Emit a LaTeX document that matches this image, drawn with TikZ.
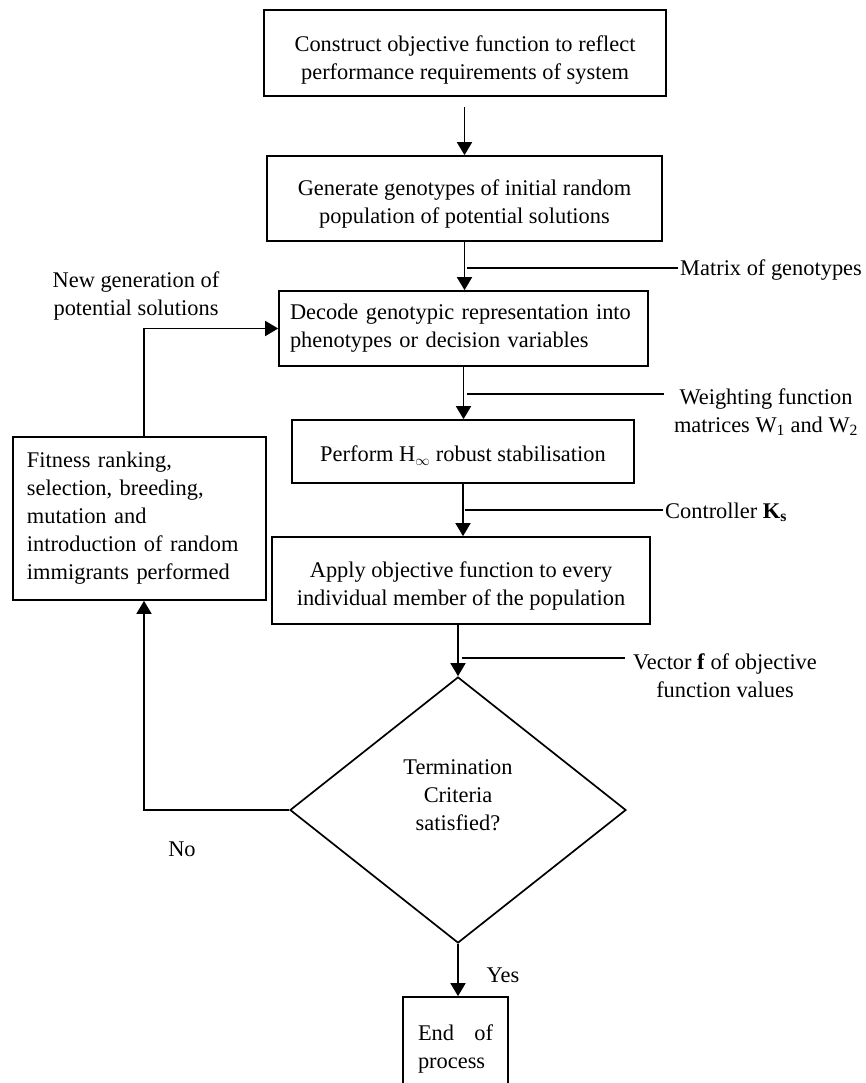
\documentclass[tikz,border=0pt]{standalone}
\usepackage{fontspec}
\setmainfont{Liberation Serif}
\usetikzlibrary{arrows.meta,shapes.geometric}
\begin{document}
\begin{tikzpicture}[x=1pt,y=-1pt,
  every node/.style={font=\fontsize{22.4}{28}\selectfont},
  box/.style={draw,line width=1.7pt,inner sep=0pt,align=center},
  lbl/.style={inner sep=2pt,align=center},
  arr/.style={line width=1.8pt,-{Triangle[length=13pt,width=15pt]}},
  ln/.style={line width=1.6pt}]
\useasboundingbox (0,0) rectangle (866,1083);
\fill[white] (0,0) rectangle (866,1083);
\clip (0,0) rectangle (866,1083);

% boxes
\node[box,minimum width=402pt,minimum height=86pt] (b1) at (465,53)
  {\rule{0pt}{29pt}Construct objective function to reflect\\performance requirements of system};
\node[box,minimum width=395pt,minimum height=85pt] (b2) at (464.5,198.5)
  {\rule{0pt}{27pt}Generate genotypes of initial random\\population of potential solutions};
\node[box,align=left,text width=347pt,inner xsep=11pt,minimum height=75pt] (b3) at (463.5,328.5)
  {Decode genotypic representation into\\phenotypes or decision variables};
\node[box,minimum width=342pt,minimum height=63pt] (b4) at (463,451.5)
  {\rule{0pt}{24pt}Perform H\textsubscript{$\infty$} robust stabilisation};
\node[box,minimum width=378pt,minimum height=87pt] (b5) at (461,580.5)
  {\rule{0pt}{27pt}Apply objective function to every\\individual member of the population};
\node[box,align=left,text width=225pt,inner xsep=14pt,minimum height=163pt] (fit) at (139.5,518.5)
  {Fitness ranking,\\selection, breeding,\\mutation and\\introduction of random\\immigrants performed};
\node[diamond,draw,line width=1.7pt,minimum width=336pt,minimum height=266pt,inner sep=0pt] (dia) at (458,810) {};
\node[lbl] (diatext) at (458,795) {Termination\\Criteria\\satisfied?};
\node[box,minimum width=105pt,minimum height=103pt] (end) at (455.5,1048.5)
  {\hbox to 75pt{End\hfill of}\\\hbox to 75pt{process\hfill}};

% labels
\node[lbl,anchor=west] (mlab) at (678,270) {Matrix of genotypes};
\node[lbl,inner xsep=10pt] (wlab) at (766,412) {Weighting function\\matrices W\textsubscript{1} and W\textsubscript{2}};
\node[lbl,anchor=west] (klab) at (663,512) {Controller \textbf{K\textsubscript{s}}};
\node[lbl,inner xsep=8pt] (vlab) at (725,676) {Vector \textbf{f} of objective\\function values};
\node[lbl] (nglab) at (136,296) {New generation of\\potential solutions};
\node[lbl] (yes) at (503,975) {Yes};
\node[lbl] (no) at (182,849) {No};

% main flow
\draw[arr,shorten <=10pt] (b2.north |- b1.south) -- (b2.north);
\draw[arr] (b2.south) -- (b2.south |- b3.north);
\draw[arr] (b3.south) -- (b3.south |- b4.north);
\draw[arr] (b4.south) -- (b4.south |- b5.north);
\draw[arr] (dia.north |- b5.south) -- (dia.north);
\draw[arr] (dia.south) -- (dia.south |- end.north);

% feedback loop
\draw[arr] (dia.west) -| ([xshift=4.5pt]fit.south);
\draw[arr] ([xshift=4.5pt]fit.north) |- (b3.west);

% side information lines
\coordinate (m0) at (467,268);
\coordinate (w0) at (467,394);
\coordinate (k0) at (465,510);
\coordinate (v0) at (462,658);
\draw[ln] (m0) -- (m0 -| mlab.west);
\draw[ln] (w0) -- (w0 -| wlab.west);
\draw[ln] (k0) -- (k0 -| klab.west);
\draw[ln] (v0) -- (v0 -| vlab.west);
\end{tikzpicture}
\end{document}
